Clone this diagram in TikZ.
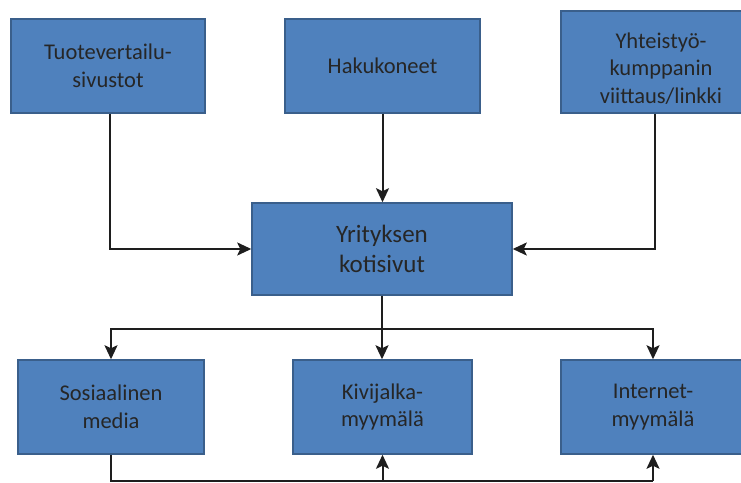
\documentclass[tikz,border=0pt]{standalone}
\usepackage{fontspec}
\setmainfont{Carlito}
\usetikzlibrary{arrows.meta}
\definecolor{OfficeBlue}{HTML}{4F81BD}
\definecolor{OfficeEdge}{HTML}{3A5F8B}
\definecolor{LineGray}{HTML}{1E1E1E}

\begin{document}
\begin{tikzpicture}[x=1pt,y=1pt,
  boxnode/.style={draw=OfficeEdge,line width=1.5pt,fill=OfficeBlue,align=center,
    inner sep=0pt,text=black!85,font=\fontsize{22.5}{27.5}\selectfont},
  conn/.style={draw=LineGray,line width=2pt},
  arr/.style={conn,-{Stealth[length=14pt,width=13pt,inset=3pt]}}]
  \useasboundingbox (0,0) rectangle (741,482);
  \clip (0,0) rectangle (741,482);
  % where the visitors come from
  \node[boxnode,minimum width=194pt,minimum height=94pt] (tuote) at (108,416) {Tuotevertailu-\\sivustot};
  \node[boxnode,minimum width=195pt,minimum height=94pt] (haku) at (382.5,416) {Hakukoneet};
  \node[boxnode,minimum width=200pt,minimum height=102pt] (yht) at (661,420) {\rule{0pt}{28pt}Yhteistyö-\\kumppanin\\viittaus/linkki};
  % home page
  \node[boxnode,minimum width=260pt,minimum height=92pt,font=\fontsize{25}{30}\selectfont] (koti) at (382,233) {Yrityksen\\kotisivut};
  % channels
  \node[boxnode,minimum width=186pt,minimum height=94pt] (some) at (111,75) {Sosiaalinen\\media};
  \node[boxnode,minimum width=179pt,minimum height=94pt] (kivi) at (382.5,75) {Kivijalka-\\myymälä};
  \node[boxnode,minimum width=184pt,minimum height=94pt] (netti) at (653,75) {Internet-\\myymälä};
  \coordinate (haara) at (382,153);
  \coordinate (pohja) at (382,1.5);
  % arrows into the home page
  \draw[arr] ([xshift=2pt]tuote.south) |- (koti.west);
  \draw[arr] (haku.south) -- (haku.south |- koti.north);
  \draw[arr] ([xshift=-6pt]yht.south) |- (koti.east);
  % arrows out of it
  \draw[arr] (koti.south) -- (koti.south |- kivi.north);
  \draw[arr] (haara) -| (some.north);
  \draw[arr] (haara) -| (netti.north);
  % bottom return line
  \draw[conn] (some.south) |- (pohja -| netti.south);
  \draw[arr] (pohja -| kivi.south) -- (kivi.south);
  \draw[arr] (pohja -| netti.south) -- (netti.south);
\end{tikzpicture}
\end{document}
